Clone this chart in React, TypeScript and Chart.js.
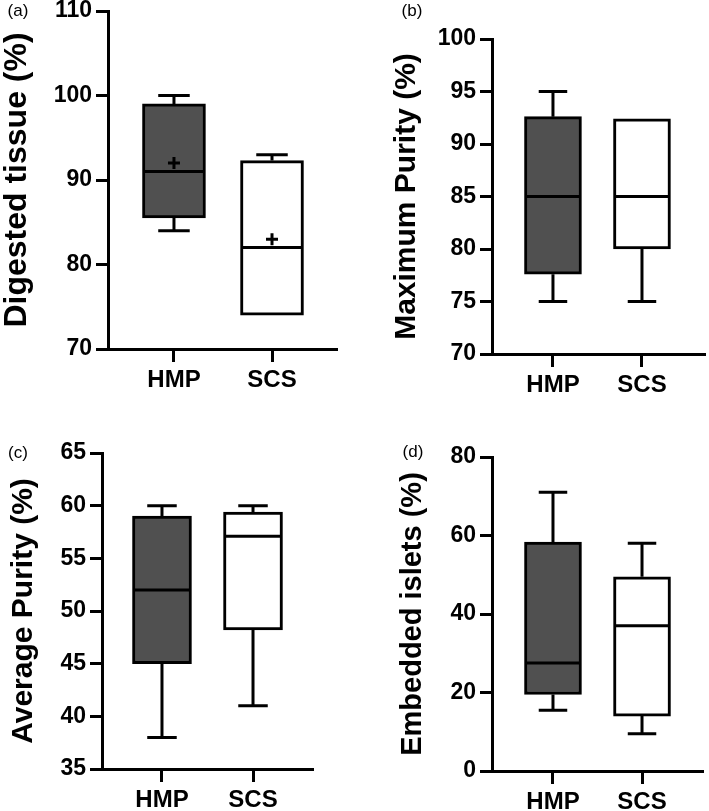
import React, { useEffect, useRef } from 'react';
import { Chart, registerables } from 'chart.js';
Chart.register(...registerables);

// ---------- data ----------
const groups = ['HMP', 'SCS'];
// five-number summaries: [min, Q1, median, Q3, max]
const digestedHMP = [84, 85.5, 91, 99, 100];
const digestedSCS = [74, 74, 82, 92.3, 93];
const digestedMeans = [92, 83];
const digestedTicks = [70, 80, 90, 100, 110];

const maxPurityHMP = [75, 77.6, 85, 92.6, 95];
const maxPuritySCS = [75, 80, 85, 92.4, 92.4];
const maxPurityTicks = [70, 75, 80, 85, 90, 95, 100];

const avgPurityHMP = [38, 45, 52, 59, 60];
const avgPuritySCS = [41, 48.2, 57.1, 59.4, 60];
const avgPurityTicks = [35, 40, 45, 50, 55, 60, 65];

const embeddedHMP = [15.5, 19.5, 27.5, 58.3, 71];
const embeddedSCS = [9.5, 14, 37, 49.5, 58];
const embeddedTicks = [0, 20, 40, 60, 80];

const boxColors = ['#505050', '#ffffff'];
const FONT = "'Liberation Sans', Arial, Helvetica, sans-serif";

// ---------- panel layout ----------
type Panel = {
  tag: string; title: string; stats: number[][]; means: number[] | null; ticks: number[];
  box: { left: number; top: number; width: number; height: number };
  pad: { left: number; top: number; right: number };
  yWidth: number; xHeight: number; xMin: number; xMax: number; barW: number;
  titleSize: number; tagPos: { x: number; y: number };
};

const panels: Panel[] = [
  {
    tag: '(a)', title: 'Digested tissue (%)', stats: [digestedHMP, digestedSCS], means: digestedMeans, ticks: digestedTicks,
    box: { left: 0, top: 0, width: 355, height: 395 }, pad: { left: 1, top: 11, right: 18 },
    yWidth: 107, xHeight: 46, xMin: 0.327, xMax: 2.663, barW: 63, titleSize: 32, tagPos: { x: 18, y: 10 },
  },
  {
    tag: '(b)', title: 'Maximum Purity (%)', stats: [maxPurityHMP, maxPuritySCS], means: null, ticks: maxPurityTicks,
    box: { left: 355, top: 0, width: 354, height: 395 }, pad: { left: 37, top: 39, right: 4 },
    yWidth: 100, xHeight: 41, xMin: 0.315, xMax: 2.708, barW: 57, titleSize: 30, tagPos: { x: 412, y: 10 },
  },
  {
    tag: '(c)', title: 'Average Purity (%)', stats: [avgPurityHMP, avgPuritySCS], means: null, ticks: avgPurityTicks,
    box: { left: 0, top: 395, width: 355, height: 416 }, pad: { left: 9, top: 58, right: 42 },
    yWidth: 93, xHeight: 42, xMin: 0.341, xMax: 2.659, barW: 59, titleSize: 30, tagPos: { x: 18, y: 452 },
  },
  {
    tag: '(d)', title: 'Embedded islets (%)', stats: [embeddedHMP, embeddedSCS], means: null, ticks: embeddedTicks,
    box: { left: 355, top: 395, width: 354, height: 416 }, pad: { left: 43, top: 62, right: 6 },
    yWidth: 94, xHeight: 40, xMin: 0.315, xMax: 2.685, barW: 57, titleSize: 29, tagPos: { x: 413, y: 451 },
  },
];

function whiskerPlugin(stats: number[][], barW: number) {
  return {
    id: 'whiskers',
    afterDatasetsDraw(chart: any) {
      const { ctx, scales } = chart;
      const x = scales.x, y = scales.y;
      ctx.save();
      ctx.strokeStyle = '#000';
      ctx.lineWidth = 3;
      ctx.lineCap = 'butt';
      stats.forEach((s, i) => {
        const cx = x.getPixelForValue(i + 1);
        const [mn, q1, md, q3, mx] = s.map((v) => y.getPixelForValue(v));
        const half = barW / 2;
        const cap = barW / 4;
        ctx.beginPath();
        ctx.moveTo(cx - half + 2, md);
        ctx.lineTo(cx + half - 2, md);
        if (s[4] > s[3]) {
          ctx.moveTo(cx, q3);
          ctx.lineTo(cx, mx);
          ctx.moveTo(cx - cap, mx);
          ctx.lineTo(cx + cap, mx);
        }
        if (s[0] < s[1]) {
          ctx.moveTo(cx, q1);
          ctx.lineTo(cx, mn);
          ctx.moveTo(cx - cap, mn);
          ctx.lineTo(cx + cap, mn);
        }
        ctx.stroke();
      });
      ctx.restore();
    },
  };
}

function BoxPanel({ p }: { p: Panel }) {
  const ref = useRef<HTMLCanvasElement>(null);
  useEffect(() => {
    if (!ref.current) return;
    const datasets: any[] = [
      {
        type: 'bar',
        order: 2,
        data: p.stats.map((s, i) => ({ x: i + 1, y: [s[1], s[3]] })),
        backgroundColor: boxColors,
        borderColor: '#000',
        borderWidth: 3,
        borderSkipped: false,
        barThickness: p.barW,
      },
    ];
    if (p.means) {
      datasets.push({
        type: 'scatter',
        order: 0,
        data: p.means.map((m, i) => ({ x: i + 1, y: m })),
        pointStyle: 'cross',
        pointRadius: 6,
        pointBorderWidth: 3,
        pointBorderColor: '#000',
        pointBackgroundColor: '#000',
        borderColor: '#000',
        showLine: false,
      });
    }
    const chart = new Chart(ref.current, {
      type: 'bar',
      data: { datasets },
      options: {
        animation: false,
        responsive: false,
        devicePixelRatio: 1,
        layout: { padding: { left: p.pad.left, top: p.pad.top, right: p.pad.right, bottom: 0 } },
        plugins: { legend: { display: false }, tooltip: { enabled: false } },
        scales: {
          x: {
            type: 'linear',
            min: p.xMin,
            max: p.xMax,
            bounds: 'data',
            offset: false,
            grid: { drawOnChartArea: false, offset: false, tickLength: 13, tickWidth: 3, tickColor: '#000' },
            border: { display: true, color: '#000', width: 3 },
            afterBuildTicks: (s: any) => { s.ticks = groups.map((_, i) => ({ value: i + 1 })); },
            afterFit: (s: any) => { s.height = p.xHeight; s.paddingLeft = 0; s.paddingRight = 0; },
            ticks: {
              autoSkip: false,
              maxRotation: 0,
              padding: 6,
              color: '#000',
              font: { family: FONT, size: 24, weight: 'bold', lineHeight: 1 },
              callback: (_v: any, i: number) => groups[i],
            },
          },
          y: {
            type: 'linear',
            min: p.ticks[0],
            max: p.ticks[p.ticks.length - 1],
            grid: { drawOnChartArea: false, tickLength: 12, tickWidth: 3, tickColor: '#000' },
            border: { display: true, color: '#000', width: 3 },
            afterFit: (s: any) => { s.width = p.yWidth; s.paddingTop = 0; s.paddingBottom = 0; },
            ticks: {
              stepSize: p.ticks[1] - p.ticks[0],
              padding: 4,
              color: '#000',
              font: { family: FONT, size: 23, weight: 'bold', lineHeight: 1 },
            },
            title: {
              display: true,
              text: p.title,
              color: '#000',
              padding: 0,
              font: { family: FONT, size: p.titleSize, weight: 'bold', lineHeight: 1 },
            },
          },
        },
      } as any,
      plugins: [whiskerPlugin(p.stats, p.barW)],
    });
    return () => chart.destroy();
  }, [p]);
  return (
    <canvas
      ref={ref}
      width={p.box.width}
      height={p.box.height}
      style={{ position: 'absolute', left: p.box.left, top: p.box.top, width: p.box.width, height: p.box.height }}
    />
  );
}

export default function App() {
  return (
    <div style={{ position: 'absolute', left: 0, top: 0, width: 709, height: 811, background: '#fff', overflow: 'hidden' }}>
      {panels.map((p) => (
        <BoxPanel key={p.tag} p={p} />
      ))}
      {panels.map((p) => (
        <div
          key={'t' + p.tag}
          style={{
            position: 'absolute',
            left: p.tagPos.x,
            top: p.tagPos.y,
            transform: 'translate(-50%, -50%)',
            fontFamily: FONT,
            fontSize: 17,
            color: '#000',
            lineHeight: 1,
            whiteSpace: 'nowrap',
          }}
        >
          {p.tag}
        </div>
      ))}
    </div>
  );
}
